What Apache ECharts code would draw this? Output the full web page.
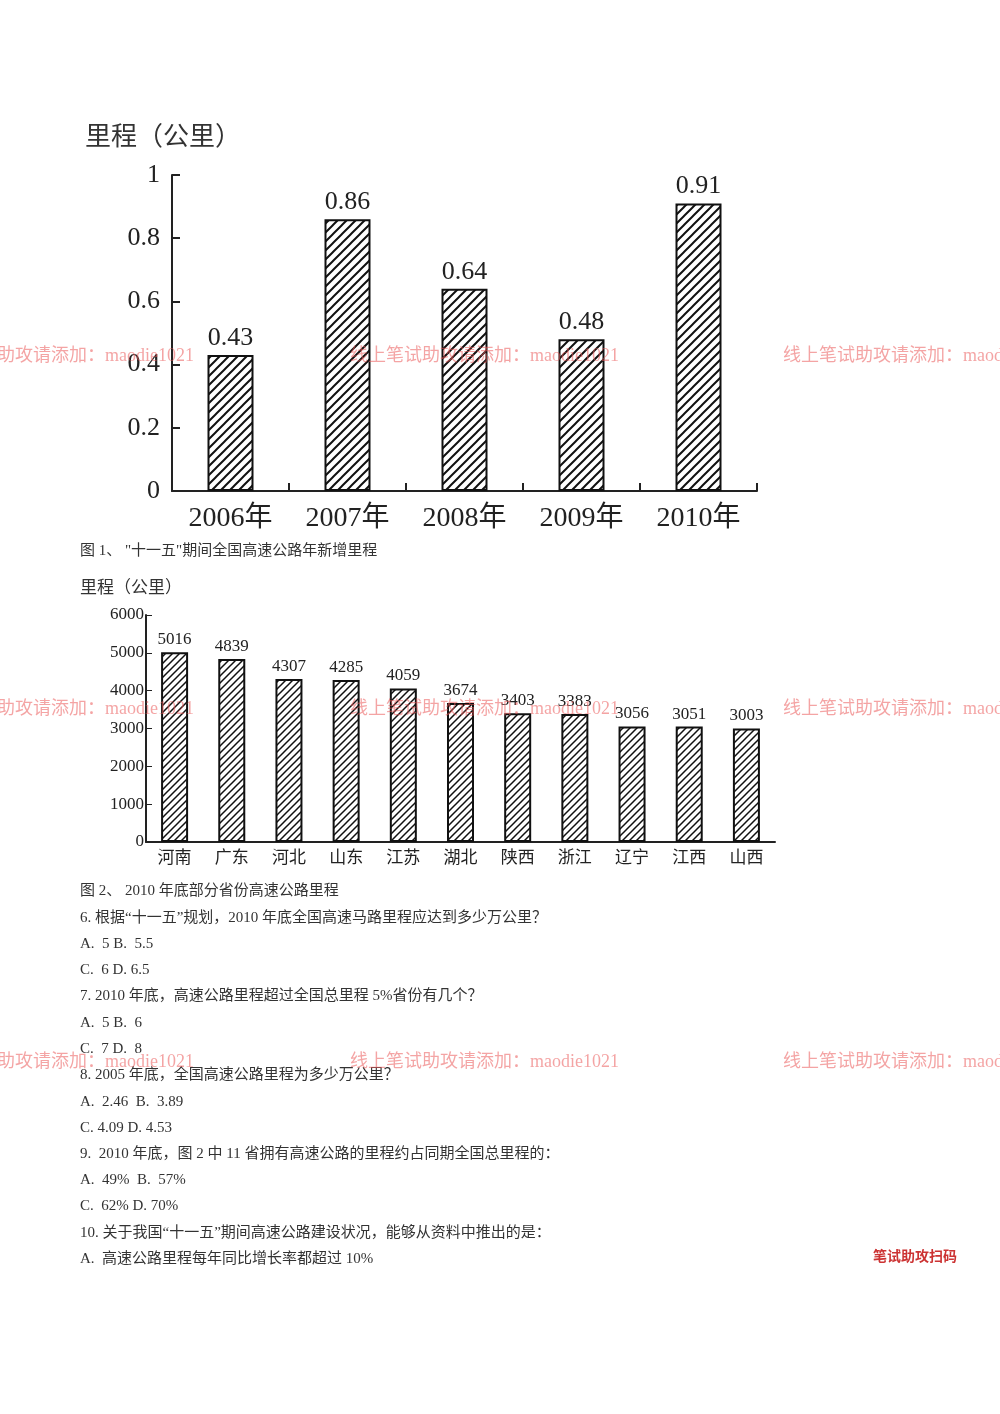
<!DOCTYPE html>
<html><head><meta charset="utf-8">
<script src="https://cdn.jsdelivr.net/npm/echarts@6/dist/echarts.min.js"></script>
<style>html,body{margin:0;padding:0;background:#fff}#c{width:1000px;height:1414px}</style>
</head><body><div id="c"></div>
<script>
const years = ['2006年','2007年','2008年','2009年','2010年'];
const yearVals = [0.43,0.86,0.64,0.48,0.91];
const provs = ['河南','广东','河北','山东','江苏','湖北','陕西','浙江','辽宁','江西','山西'];
const provVals = [5016,4839,4307,4285,4059,3674,3403,3383,3056,3051,3003];
const lines = [
 [553,'图 1、 "十一五"期间全国高速公路年新增里程'],
 [893,'图 2、 2010 年底部分省份高速公路里程'],
 [920,'6. 根据“十一五”规划，2010 年底全国高速马路里程应达到多少万公里？'],
 [946,'A.  5 B.  5.5'],
 [972,'C.  6 D. 6.5'],
 [998,'7. 2010 年底，高速公路里程超过全国总里程 5%省份有几个？'],
 [1025,'A.  5 B.  6'],
 [1051,'C.  7 D.  8'],
 [1077,'8. 2005 年底，全国高速公路里程为多少万公里？'],
 [1104,'A.  2.46  B.  3.89'],
 [1130,'C. 4.09 D. 4.53'],
 [1156,'9.  2010 年底，图 2 中 11 省拥有高速公路的里程约占同期全国总里程的：'],
 [1182,'A.  49%  B.  57%'],
 [1208,'C.  62% D. 70%'],
 [1235,'10. 关于我国“十一五”期间高速公路建设状况，能够从资料中推出的是：'],
 [1261,'A.  高速公路里程每年同比增长率都超过 10%']
];
const F = '"Liberation Serif", "Noto Sans CJK SC", serif';
function hatch(step, lw){
  const c=document.createElement('canvas'); c.width=c.height=step;
  const g=c.getContext('2d'); g.fillStyle='#fff'; g.fillRect(0,0,step,step);
  g.strokeStyle='#111'; g.lineWidth=lw; g.beginPath();
  g.moveTo(-1,step+1); g.lineTo(step+1,-1);
  g.moveTo(-1,1); g.lineTo(1,-1);
  g.moveTo(step-1,step+1); g.lineTo(step+1,step-1);
  g.stroke(); return c;
}
const graphics = [
 {type:'text',left:85,top:125,style:{text:'里程（公里）',font:'26px '+F,fill:'#333'}},
 {type:'text',left:80,top:580,style:{text:'里程（公里）',font:'17px '+F,fill:'#333'}}
];
lines.forEach(l=>graphics.push({type:'text',left:80,top:l[0]-9,style:{text:l[1],font:'15px '+F,fill:'#333'}}));
[357,710,1063].forEach(y=>{
  [-75,350,783].forEach(x=>
   graphics.push({type:'text',left:x,top:y-10,z:100,style:{text:'线上笔试助攻请添加：maodie1021',font:'18px '+F,fill:'rgba(235,90,90,0.55)'}}));
});
graphics.push({type:'text',left:873,top:1250,style:{text:'笔试助攻扫码',font:'bold 14px '+F,fill:'#c33'}});
const ch = echarts.init(document.getElementById('c'));
const axisLine={lineStyle:{color:'#222',width:2}};
ch.setOption({
 animation:false,
 graphic:graphics,
 grid:[{left:172,top:175,width:585,height:316},{left:146,top:615,width:629,height:227}],
 xAxis:[
  {gridIndex:0,type:'category',data:years,axisLine,axisTick:{show:true,lineStyle:{color:'#222',width:2},length:-8},
   axisLabel:{fontSize:28,color:'#222',fontFamily:F,margin:14}},
  {gridIndex:1,type:'category',data:provs,axisLine,axisTick:{show:false},
   axisLabel:{fontSize:17,color:'#222',fontFamily:F,margin:8}}
 ],
 yAxis:[
  {gridIndex:0,min:0,max:1,interval:0.2,axisLine:{show:true,lineStyle:{color:'#222',width:2}},axisTick:{show:true,length:-8,lineStyle:{color:'#222',width:2}},splitLine:{show:false},
   axisLabel:{fontSize:26,color:'#222',fontFamily:F,margin:12,formatter:v=>String(+v.toFixed(1))}},
  {gridIndex:1,min:0,max:6000,interval:1000,axisLine:{show:true,lineStyle:{color:'#222',width:2}},axisTick:{show:true,length:-6,lineStyle:{color:'#222'}},splitLine:{show:false},
   axisLabel:{fontSize:17,color:'#222',fontFamily:F,margin:2,formatter:v=>String(v)}}
 ],
 series:[
  {type:'bar',xAxisIndex:0,yAxisIndex:0,data:yearVals,barWidth:46,
   itemStyle:{color:{image:hatch(9,2),repeat:'repeat'},borderColor:'#111',borderWidth:2},
   label:{show:true,position:'top',fontSize:26,color:'#222',fontFamily:F,distance:4}},
  {type:'bar',xAxisIndex:1,yAxisIndex:1,data:provVals,barWidth:27,
   itemStyle:{color:{image:hatch(7,1.5),repeat:'repeat'},borderColor:'#111',borderWidth:2},
   label:{show:true,position:'top',fontSize:17,color:'#222',fontFamily:F,distance:4}}
 ]
});
</script></body></html>
